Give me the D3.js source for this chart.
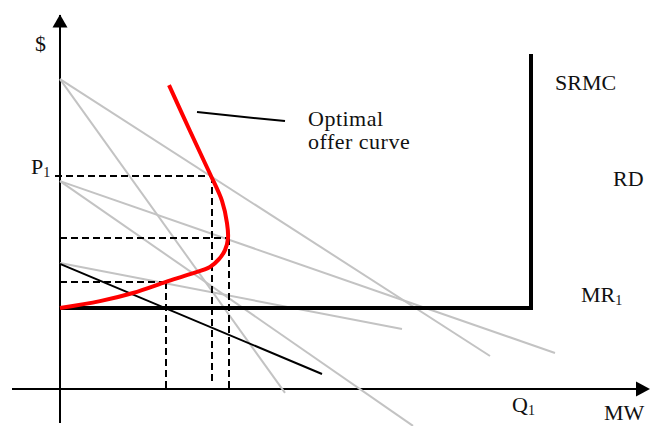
<!DOCTYPE html>
<html>
<head>
<meta charset="utf-8">
<script src="https://cdn.jsdelivr.net/npm/d3@7/dist/d3.min.js"></script>
<style>
  html, body { margin: 0; padding: 0; background: #fff; }
  svg { display: block; }
  text { font-family: "Liberation Serif", "Times New Roman", serif; fill: #111; }
</style>
</head>
<body>
<svg id="chart" width="650" height="426"></svg>
<script>
// Quantity (MW) and price ($) in arbitrary units, origin at the axes corner.

// Residual demand curves (gray): [q0, p0, q1, p1]
const demandLines = [
  [0, 103.3, 86, 11],     // RD high
  [0, 69.3, 99, 12],      // RD middle
  [0, 42, 68.4, 20]       // RD low
];
// Marginal revenue curves for the upper two demand curves (gray)
const mrLines = [
  [0, 103.3, 45, -1.3],
  [0, 69.3, 70.6, -12.3]
];
// Marginal revenue MR1 for the low demand curve (black)
const mr1Line = [0, 41.7, 52.4, 5];

// Short-run marginal cost: flat price, then vertical at capacity Q1
const srmcPrice = 27;
const srmcCapacity = 94.2;
const srmcTop = 111.7;

// Optimal offer curve points [quantity, price]
const offerCurve = [
  [21.8, 101.3], [26, 86], [28.8, 76], [30.2, 71], [32.4, 62.7],
  [33.4, 55.3], [33.6, 50.3], [33, 46.3], [31.8, 43.3], [30, 40.7],
  [26, 38.3], [21.2, 35.7], [14.6, 32], [8, 29.3], [0, 27]
];

// Price/quantity pairs where the offer curve meets each demand curve
const equilibria = [
  { q: 30.4, p: 71 },
  { q: 33.8, p: 50.3 },
  { q: 21.2, p: 35.7 }
];

const svg = d3.select("#chart");
const x = d3.scaleLinear().domain([0, 120]).range([60, 660]);
const y = d3.scaleLinear().domain([0, 125]).range([389, 14]);

// Axes
svg.append("line")
  .attr("x1", x(0)).attr("y1", y(-11.3))
  .attr("x2", x(0)).attr("y2", y(124.7))
  .attr("stroke", "#000").attr("stroke-width", 2);
svg.append("path")
  .attr("d", d3.line()([[x(0) - 7.5, y(120.5)], [x(0) + 7.5, y(120.5)], [x(0), y(124.8)]]) + "Z")
  .attr("fill", "#000");
svg.append("line")
  .attr("x1", x(-9.6)).attr("y1", y(0))
  .attr("x2", x(117.6)).attr("y2", y(0))
  .attr("stroke", "#000").attr("stroke-width", 2);
svg.append("path")
  .attr("d", d3.line()([[x(115.2), y(-2.5)], [x(115.2), y(2.5)], [x(118), y(0)]]) + "Z")
  .attr("fill", "#000");

// Gray demand and MR lines
const gray = svg.append("g").attr("stroke", "#c3c3c3").attr("stroke-width", 2).attr("fill", "none");
gray.selectAll("line")
  .data(demandLines.concat(mrLines))
  .join("line")
  .attr("x1", d => x(d[0])).attr("y1", d => y(d[1]))
  .attr("x2", d => x(d[2])).attr("y2", d => y(d[3]));

// MR1 (black)
svg.append("line")
  .attr("x1", x(mr1Line[0])).attr("y1", y(mr1Line[1]))
  .attr("x2", x(mr1Line[2])).attr("y2", y(mr1Line[3]))
  .attr("stroke", "#000").attr("stroke-width", 2);

// Dashed guide lines to each axis
const guides = svg.append("g")
  .attr("stroke", "#000").attr("stroke-width", 2)
  .attr("stroke-dasharray", "7,4").attr("fill", "none");
equilibria.forEach((e, i) => {
  guides.append("line")
    .attr("x1", x(i === 0 ? -1 : 0)).attr("y1", y(e.p))
    .attr("x2", x(e.q)).attr("y2", y(e.p));
  guides.append("line")
    .attr("x1", x(e.q)).attr("y1", y(e.p))
    .attr("x2", x(e.q)).attr("y2", y(i === 0 ? 2 : 0));
});

// SRMC (thick black)
svg.append("path")
  .attr("d", d3.line()([
    [x(0), y(srmcPrice)],
    [x(srmcCapacity), y(srmcPrice)],
    [x(srmcCapacity), y(srmcTop)]
  ]))
  .attr("fill", "none").attr("stroke", "#000").attr("stroke-width", 4);

// Optimal offer curve (red)
svg.append("path")
  .datum(offerCurve)
  .attr("d", d3.line().x(d => x(d[0])).y(d => y(d[1])).curve(d3.curveCatmullRom.alpha(0.5)))
  .attr("fill", "none").attr("stroke", "#ff0000").attr("stroke-width", 4)
  .attr("stroke-linecap", "butt");

// Leader line to the curve's label
svg.append("line")
  .attr("x1", x(27.4)).attr("y1", y(92.3))
  .attr("x2", x(45)).attr("y2", y(89.3))
  .attr("stroke", "#000").attr("stroke-width", 2);

// Labels
const fs = 22;
function label(tx, ty, main, sub, spacing) {
  const t = svg.append("text").attr("x", tx).attr("y", ty).attr("font-size", fs)
    .attr("letter-spacing", spacing || 0);
  t.append("tspan").text(main);
  if (sub) t.append("tspan").attr("font-size", 14).attr("dy", 3).text(sub);
  return t;
}
label(35, 51, "$");
label(31, 174, "P", "1");
label(555, 90, "SRMC");
label(613, 186, "RD");
label(581, 302, "MR", "1");
label(512, 412, "Q", "1");
label(604, 420, "MW");
label(308, 126, "Optimal", null, 0.5);
label(308, 149, "offer curve", null, 0.5);
</script>
</body>
</html>
